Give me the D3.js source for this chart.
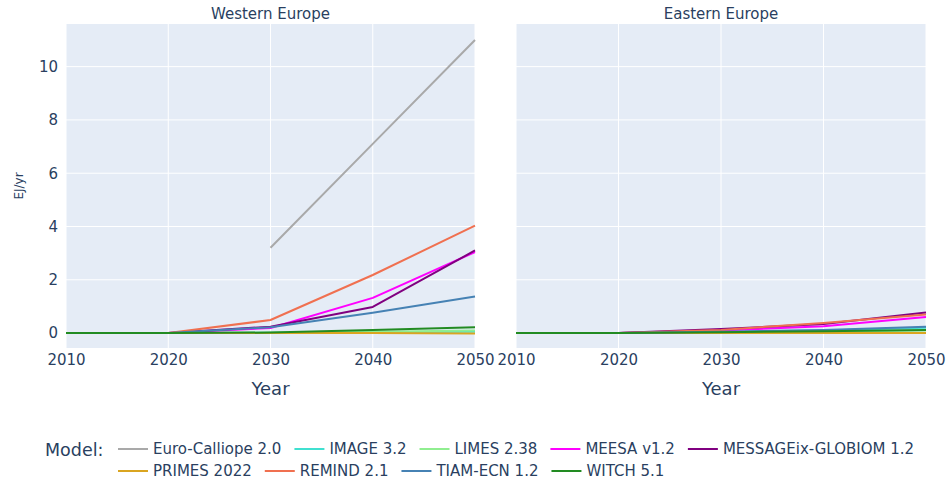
<!DOCTYPE html>
<html>
<head>
<meta charset="utf-8">
<script src="https://cdn.jsdelivr.net/npm/d3@7"></script>
<style>
  body { margin: 0; background: #fff; }
  text { font-family: "DejaVu Sans", Verdana, sans-serif; fill: #2a3f5f; }
</style>
</head>
<body>
<svg id="chart"></svg>
<script>
const years = [2010, 2020, 2030, 2040, 2050];
const regions = ['Western Europe', 'Eastern Europe'];
const models = ['Euro-Calliope 2.0', 'IMAGE 3.2', 'LIMES 2.38', 'MEESA v1.2', 'MESSAGEix-GLOBIOM 1.2',
  'PRIMES 2022', 'REMIND 2.1', 'TIAM-ECN 1.2', 'WITCH 5.1'];
const colors = ['#a9a9a9', '#40e0d0', '#90ee90', '#ff00ff', '#800080',
  '#daa520', '#f07050', '#4682b4', '#228b22'];

// values per model, one array per region (null = no data)
const western = [
  [null, null, 3.2, 7.1, 11.0],
  [0, 0, 0.01, 0.03, 0.05],
  [0, 0, 0.01, 0.05, 0.1],
  [0, 0, 0.19, 1.32, 3.04],
  [0, 0, 0.24, 0.98, 3.1],
  [0, 0, 0, 0, -0.02],
  [0, 0, 0.49, 2.18, 4.03],
  [0, 0, 0.22, 0.76, 1.37],
  [0, 0, 0.02, 0.12, 0.22],
];
const eastern = [
  [null, null, null, null, null],
  [0, 0, 0.04, 0.1, 0.2],
  [0, 0, 0.02, 0.05, 0.1],
  [0, 0, 0.1, 0.26, 0.6],
  [0, 0, 0.15, 0.34, 0.77],
  [0, 0, 0, 0, 0],
  [0, 0, 0.12, 0.38, 0.7],
  [0, 0, 0.05, 0.12, 0.24],
  [0, 0, 0.03, 0.07, 0.12],
];
const yTicks = [0, 2, 4, 6, 8, 10];
const xTicks = [2010, 2020, 2030, 2040, 2050];

const width = 949;
const height = 484;
const svg = d3.select('#chart').attr('width', width).attr('height', height);

const plotTop = 24;
const plotBottom = 348;
const panels = [{ x0: 66, x1: 475, data: western }, { x0: 516, x1: 926, data: eastern }];

const yScale = d3.scaleLinear().domain([-0.56, 11.6]).range([plotBottom, plotTop]);

const line = d3.line()
  .defined(d => d.value !== null)
  .x(d => d.x)
  .y(d => yScale(d.value));

panels.forEach((p, i) => {
  const xScale = d3.scaleLinear().domain([2010, 2050]).range([p.x0, p.x1]);
  const g = svg.append('g');

  g.append('rect')
    .attr('x', p.x0).attr('y', plotTop)
    .attr('width', p.x1 - p.x0).attr('height', plotBottom - plotTop)
    .attr('fill', '#e5ecf6');

  g.selectAll('.vgrid').data(xTicks).enter().append('line')
    .attr('x1', d => xScale(d)).attr('x2', d => xScale(d))
    .attr('y1', plotTop).attr('y2', plotBottom)
    .attr('stroke', '#fff').attr('stroke-width', 1);

  g.selectAll('.hgrid').data(yTicks).enter().append('line')
    .attr('x1', p.x0).attr('x2', p.x1)
    .attr('y1', d => yScale(d)).attr('y2', d => yScale(d))
    .attr('stroke', '#fff').attr('stroke-width', d => (d === 0 ? 2 : 1));

  const axisx = d3.axisBottom(xScale).tickValues(xTicks).tickFormat(d3.format('d')).tickSize(0).tickPadding(6);
  const ax = g.append('g').attr('transform', `translate(0,${plotBottom})`).call(axisx);
  ax.select('.domain').remove();
  ax.selectAll('text').style('font-size', '15px').style('fill', '#2a3f5f')
    .style('font-family', '"DejaVu Sans", Verdana, sans-serif');

  if (i === 0) {
    const axisy = d3.axisLeft(yScale).tickValues(yTicks).tickSize(0).tickPadding(8);
    const ay = g.append('g').attr('transform', `translate(${p.x0},0)`).call(axisy);
    ay.select('.domain').remove();
    ay.selectAll('text').style('font-size', '15px').style('fill', '#2a3f5f')
      .style('font-family', '"DejaVu Sans", Verdana, sans-serif');
  }

  models.forEach((m, k) => {
    const series = years.map((y, j) => ({ x: xScale(y), value: p.data[k][j] }));
    g.append('path')
      .datum(series)
      .attr('fill', 'none')
      .attr('stroke', colors[k])
      .attr('stroke-width', 2)
      .attr('stroke-linejoin', 'round')
      .attr('d', line);
  });

  svg.append('text')
    .attr('x', (p.x0 + p.x1) / 2).attr('y', 19)
    .attr('text-anchor', 'middle').style('font-size', '15px')
    .text(regions[i]);

  svg.append('text')
    .attr('x', (p.x0 + p.x1) / 2).attr('y', 395)
    .attr('text-anchor', 'middle').style('font-size', '18px')
    .text('Year');
});

svg.append('text')
  .attr('transform', `translate(23,${(plotTop + plotBottom) / 2}) rotate(-90)`)
  .attr('text-anchor', 'middle').style('font-size', '12px')
  .text('EJ/yr');

// legend
const legend = svg.append('g');
legend.append('text').attr('x', 45).attr('y', 456).style('font-size', '17.5px').text('Model:');
let lx = 118;
let ly = 449;
const maxX = 940;
models.forEach((m, k) => {
  const item = legend.append('g');
  const t = item.append('text').attr('x', 35).attr('y', 5).style('font-size', '15px').text(m);
  const w = 35 + t.node().getComputedTextLength();
  if (lx + w > maxX) { lx = 118; ly += 22; }
  item.attr('transform', `translate(${lx},${ly})`);
  item.append('line').attr('x1', 0).attr('x2', 30).attr('y1', 0).attr('y2', 0)
    .attr('stroke', colors[k]).attr('stroke-width', 2);
  lx += w + 13;
});
</script>
</body>
</html>
